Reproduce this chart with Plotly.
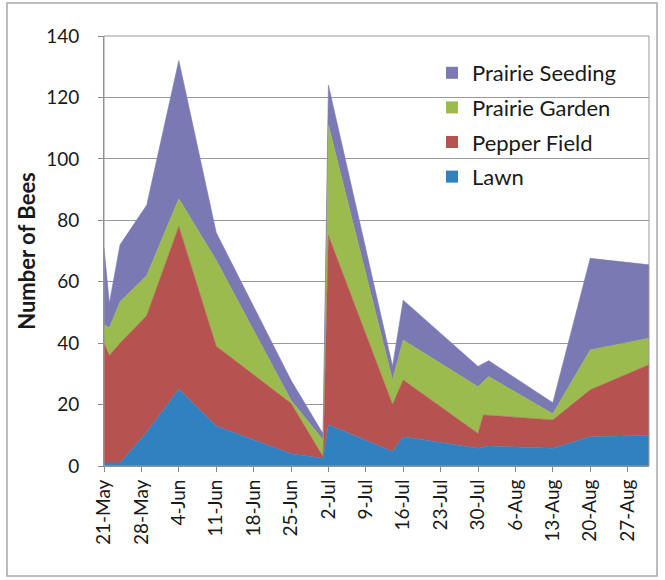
import plotly.graph_objects as go

# ---- data ----
dates = ['2013-05-21', '2013-05-22', '2013-05-24', '2013-05-29', '2013-06-04',
         '2013-06-11', '2013-06-25', '2013-07-01', '2013-07-02', '2013-07-14',
         '2013-07-16', '2013-07-30', '2013-07-31', '2013-08-01', '2013-08-13',
         '2013-08-20', '2013-08-31']
lawn = [1, 1, 1, 11, 25, 13, 4, 2.5, 13.4, 4.7, 9.5, 5.8, 6.2, 6.5, 5.8, 9.5, 10]
pepper_field = [39, 35, 39, 38, 53, 26, 16.4, 0.5, 61.6, 15.3, 18.5, 4.8, 10.4, 10, 9.2, 15.3, 23]
prairie_garden = [6, 9, 13.5, 13, 9, 28, 1, 5.5, 36, 8, 13, 15.2, 10.9, 12.6, 2, 13, 8.6]
prairie_seeding = [25, 8, 18.5, 23, 45, 9, 6.5, 2, 13, 4.5, 13, 6.6, 5.9, 5.2, 3.6, 29.8, 23.9]

tick_dates = ['2013-05-21', '2013-05-28', '2013-06-04', '2013-06-11', '2013-06-18',
              '2013-06-25', '2013-07-02', '2013-07-09', '2013-07-16', '2013-07-23',
              '2013-07-30', '2013-08-06', '2013-08-13', '2013-08-20', '2013-08-27']
tick_labels = ['21-May', '28-May', '4-Jun', '11-Jun', '18-Jun', '25-Jun', '2-Jul',
               '9-Jul', '16-Jul', '23-Jul', '30-Jul', '6-Aug', '13-Aug', '20-Aug', '27-Aug']

series = [
    ('Lawn', lawn, '#3181c0'),
    ('Pepper Field', pepper_field, '#b65250'),
    ('Prairie Garden', prairie_garden, '#9cbb4e'),
    ('Prairie Seeding', prairie_seeding, '#7a79b4'),
]

FONT = 'Lato, "Open Sans", sans-serif'

fig = go.Figure()
for name, vals, col in series:
    fig.add_trace(go.Scatter(
        x=dates, y=vals, name=name, mode='lines', stackgroup='one',
        line=dict(width=0.6, color=col), fillcolor=col, showlegend=False,
        hoverinfo='x+y+name'))
# legend swatches (squares, like the reference)
for name, vals, col in reversed(series):
    fig.add_trace(go.Scatter(
        x=[None], y=[None], name=name, mode='markers',
        marker=dict(symbol='square', size=12, color=col), legendgroup=name))

W, H = 665, 580
L, R, T, B = 104, 16, 36, 114
pw, ph = W - L - R, H - T - B

fig.update_layout(
    width=W, height=H,
    margin=dict(l=L, r=R, t=T, b=B, autoexpand=False),
    paper_bgcolor='white', plot_bgcolor='white',
    font=dict(family=FONT, size=19, color='#1a1a1a'),
    legend=dict(x=(432 - L) / pw, y=(H - B - 52) / ph, xanchor='left', yanchor='top',
                bgcolor='rgba(0,0,0,0)', font=dict(size=22, family=FONT, color='#1a1a1a'),
                tracegroupgap=3, itemsizing='constant'),
    showlegend=True,
)
fig.update_xaxes(
    type='date', range=['2013-05-21', '2013-08-31'],
    tickvals=tick_dates, ticktext=tick_labels, tickangle=-90,
    ticks='outside', ticklen=5, tickcolor='#8a8a8a',
    showgrid=False, showline=True, linecolor='#8a8a8a', linewidth=1,
    tickfont=dict(size=19, family=FONT, color='#1a1a1a'), automargin=False)
fig.update_yaxes(
    range=[0, 140], dtick=20, tick0=0,
    ticks='outside', ticklen=5, tickcolor='#8a8a8a', ticklabelstandoff=15,
    showgrid=True, gridcolor='#9a9a9a', gridwidth=1.2,
    showline=True, linecolor='#8a8a8a', linewidth=1, zeroline=False,
    tickfont=dict(size=19, family=FONT, color='#1a1a1a'),
    title=dict(text='<b>Number of Bees</b>', font=dict(size=22, family=FONT, color='#1a1a1a'),
               standoff=4),
    automargin=False)

# plot-area border and outer chart frame
fig.add_shape(type='rect', xref='paper', yref='paper', x0=0, x1=1, y0=0, y1=1,
              line=dict(color='#9a9a9a', width=1), layer='above')
fig.add_shape(type='rect', xref='paper', yref='paper',
              x0=(7 - L) / pw, x1=(657 - L) / pw,
              y0=(H - B - 576) / ph, y1=(H - B - 3) / ph,
              line=dict(color='#a8a8a8', width=1.5), layer='below')

fig.write_html('out.html', config={'displayModeBar': False},
               post_script="document.body.style.margin='0';")
